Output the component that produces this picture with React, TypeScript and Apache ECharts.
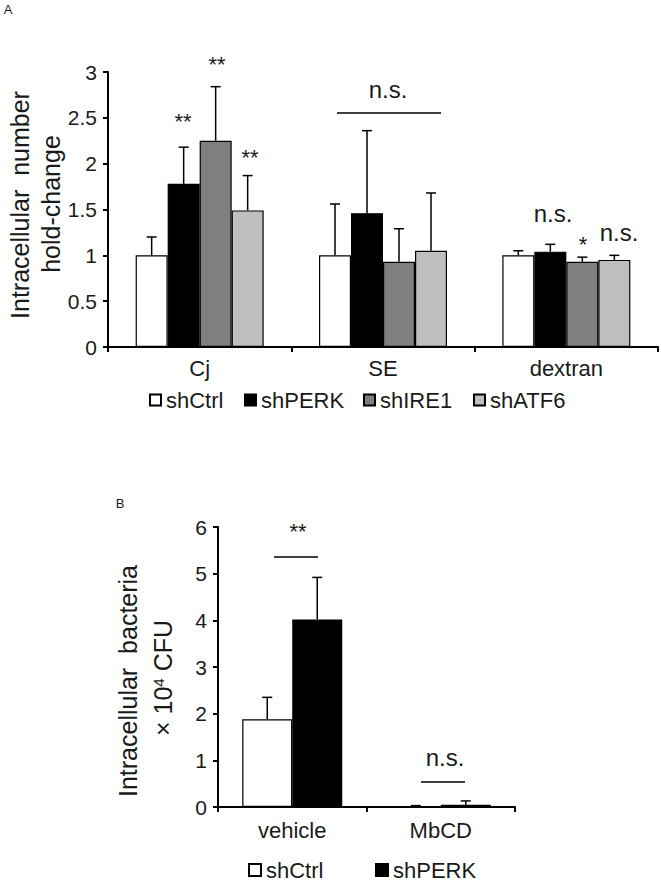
import React, { useEffect, useRef } from "react";
import * as echarts from "echarts";

const FONT = "'Liberation Sans', Arial, sans-serif";

// Panel A data
const categoriesA = ["Cj", "SE", "dextran"];
const groupNamesA = ["shCtrl", "shPERK", "shIRE1", "shATF6"];
const shCtrlA = [1.0, 1.0, 1.0];
const shPERKA = [1.78, 1.46, 1.04];
const shIRE1A = [2.25, 0.93, 0.93];
const shATF6A = [1.49, 1.05, 0.95];
const shCtrlAErr = [0.2, 0.56, 0.05];
const shPERKAErr = [0.4, 0.9, 0.08];
const shIRE1AErr = [0.59, 0.36, 0.05];
const shATF6AErr = [0.38, 0.63, 0.05];
const yTicksA = { min: 0, max: 3, interval: 0.5 };

// Panel B data
const categoriesB = ["vehicle", "MbCD"];
const groupNamesB = ["shCtrl", "shPERK"];
const shCtrlB = [1.88, 0.02];
const shPERKB = [4.02, 0.05];
const shCtrlBErr = [0.47, 0.01];
const shPERKBErr = [0.9, 0.08];
const yTicksB = { min: 0, max: 6, interval: 1 };

const colors = ["#ffffff", "#000000", "#7f7f7f", "#bfbfbf"];
const TEXT = "#1a1a1a";

function errSeries(
  values: number[],
  errs: number[],
  offset: number,
  xAxisIndex: number,
  yAxisIndex: number
) {
  return {
    type: "custom",
    xAxisIndex,
    yAxisIndex,
    z: 5,
    silent: true,
    data: values.map((v, i) => [i, v, v + errs[i]]),
    renderItem: (params: any, api: any) => {
      const base = api.coord([api.value(0), api.value(1)]);
      const top = api.coord([api.value(0), api.value(2)]);
      const x = base[0] + offset;
      return {
        type: "group",
        children: [
          {
            type: "line",
            shape: { x1: x, y1: base[1], x2: x, y2: top[1] },
            style: { stroke: "#000", lineWidth: 1.5 },
          },
          {
            type: "line",
            shape: { x1: x - 5, y1: top[1], x2: x + 5, y2: top[1] },
            style: { stroke: "#000", lineWidth: 1.5 },
          },
        ],
      };
    },
  };
}

function barSeries(name: string, data: number[], color: string, xi: number, yi: number, width: number) {
  return {
    type: "bar",
    name,
    xAxisIndex: xi,
    yAxisIndex: yi,
    data,
    barWidth: width,
    barGap: "0%",
    itemStyle: { color, borderColor: "#000", borderWidth: 1.2 },
  };
}

function txt(text: string, x: number, y: number, size: number, extra: any = {}) {
  return {
    type: "text",
    x,
    y,
    silent: true,
    style: {
      text,
      fill: TEXT,
      font: `${size}px ${FONT}`,
      align: "center",
      verticalAlign: "middle",
      ...extra,
    },
  };
}

function hline(x1: number, x2: number, y: number) {
  return {
    type: "line",
    silent: true,
    shape: { x1, y1: y, x2, y2: y },
    style: { stroke: "#000", lineWidth: 1.5 },
  };
}

export default function App() {
  const ref = useRef<HTMLDivElement>(null);
  useEffect(() => {
    if (!ref.current) return;
    const chart = echarts.init(ref.current, null, { renderer: "svg" });
    const axisLine = { show: true, lineStyle: { color: "#000", width: 2 } };
    const axisTick = { show: true, length: 5, lineStyle: { color: "#000", width: 2 } };
    const valsA = [shCtrlA, shPERKA, shIRE1A, shATF6A];
    const errsA = [shCtrlAErr, shPERKAErr, shIRE1AErr, shATF6AErr];
    const valsB = [shCtrlB, shPERKB];
    const errsB = [shCtrlBErr, shPERKBErr];
    const bwA = 32;
    const bwB = 50;

    const series: any[] = [];
    groupNamesA.forEach((n, i) => series.push(barSeries(n, valsA[i], colors[i], 0, 0, bwA)));
    groupNamesB.forEach((n, i) => series.push(barSeries(n, valsB[i], colors[i], 1, 1, bwB)));
    groupNamesA.forEach((n, i) => series.push(errSeries(valsA[i], errsA[i], (i - 1.5) * bwA, 0, 0)));
    groupNamesB.forEach((n, i) => series.push(errSeries(valsB[i], errsB[i], (i - 0.5) * bwB, 1, 1)));

    const legendTextStyle = { fontFamily: FONT, fontSize: 22, color: TEXT };
    const legA = [149, 244, 363, 473].map((left, i) => ({
      data: [groupNamesA[i]],
      left,
      top: 389,
      itemWidth: 11,
      itemHeight: 11,
      itemGap: 0,
      icon: "rect",
      selectedMode: false,
      textStyle: legendTextStyle,
      padding: 0,
    }));
    const legB = [248, 375].map((left, i) => ({
      data: [groupNamesB[i]],
      left,
      top: 859,
      itemWidth: 12,
      itemHeight: 12,
      icon: "rect",
      selectedMode: false,
      textStyle: { ...legendTextStyle, fontSize: 22, lineHeight: 22 },
      padding: 0,
    }));

    chart.setOption({
      animation: false,
      backgroundColor: "#ffffff",
      grid: [
        { left: 108, top: 72, width: 550, height: 275 },
        { left: 218, top: 527, width: 297, height: 280 },
      ],
      legend: [...legA, ...legB],
      xAxis: [
        {
          type: "category",
          gridIndex: 0,
          data: categoriesA,
          axisLine,
          axisTick: { ...axisTick, interval: 0 },
          axisLabel: { color: TEXT, fontFamily: FONT, fontSize: 22, margin: 10 },
        },
        {
          type: "category",
          gridIndex: 1,
          data: categoriesB,
          axisLine,
          axisTick: { ...axisTick, interval: 0 },
          axisLabel: { color: TEXT, fontFamily: FONT, fontSize: 22, margin: 12 },
        },
      ],
      yAxis: [
        {
          type: "value",
          gridIndex: 0,
          ...yTicksA,
          axisLine,
          axisTick,
          splitLine: { show: false },
          axisLabel: { color: TEXT, fontFamily: FONT, fontSize: 21, margin: 11 },
        },
        {
          type: "value",
          gridIndex: 1,
          ...yTicksB,
          axisLine,
          axisTick,
          splitLine: { show: false },
          axisLabel: { color: TEXT, fontFamily: FONT, fontSize: 21, margin: 11 },
        },
      ],
      series,
      graphic: [
        txt("A", 8, 9, 13),
        txt("B", 120, 503, 13),
        { ...txt("Intracellular  number", 20, 205, 25), rotation: Math.PI / 2 },
        { ...txt("hold-change", 51, 204, 25), rotation: Math.PI / 2 },
        { ...txt("Intracellular  bacteria", 128, 681, 25), rotation: Math.PI / 2 },
        {
          type: "text",
          x: 163,
          y: 678,
          rotation: Math.PI / 2,
          silent: true,
          style: {
            text: "× 10{sup|4} CFU",
            fill: TEXT,
            font: `25px ${FONT}`,
            align: "center",
            verticalAlign: "middle",
            rich: {
              sup: { fontSize: 15, fontFamily: FONT, verticalAlign: "top", padding: [0, 0, 10, 0], fill: TEXT },
            },
          },
        },
        txt("**", 183, 121, 22),
        txt("**", 217, 64, 22),
        txt("**", 250, 157, 22),
        txt("n.s.", 388, 89, 24),
        hline(337, 441, 113),
        txt("n.s.", 553, 213, 24),
        txt("*", 583, 244, 22),
        txt("n.s.", 619, 232, 24),
        txt("**", 298, 531, 22),
        hline(274, 318, 557),
        txt("n.s.", 445, 757, 24),
        hline(421, 465, 782),
      ],
    });
    return () => chart.dispose();
  }, []);
  return (
    <div
      ref={ref}
      style={{ position: "absolute", left: 0, top: 0, width: 661, height: 882 }}
    />
  );
}
